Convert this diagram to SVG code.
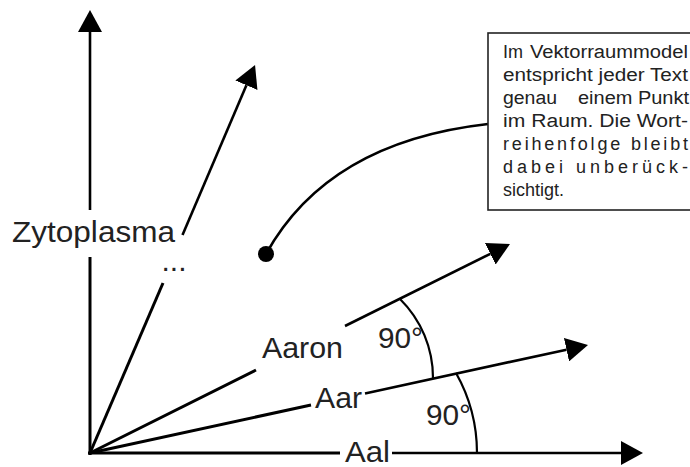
<svg xmlns="http://www.w3.org/2000/svg" width="690" height="467" viewBox="0 0 690 467">
<style>
.ln{stroke:#000;stroke-width:3;fill:none}
.vec{stroke:#000;stroke-width:2.6;fill:none;marker-end:url(#ah)}
.arc{stroke:#000;stroke-width:2.2;fill:none}
.lbl{font-family:"Liberation Sans",Arial,sans-serif;font-size:30px;fill:#222}
.box{font-family:"Liberation Sans",Arial,sans-serif;font-size:18px;fill:#222}
</style>
<defs>
<marker id="ah" markerUnits="userSpaceOnUse" viewBox="0 0 22 24" markerWidth="22" markerHeight="24" refX="0" refY="12" orient="auto">
<path d="M0,0 L22,12 L0,24 Z" fill="#000"/>
</marker>
</defs>
<rect width="690" height="467" fill="#fff"/>
<g id="connectors">
<line class="ln" x1="90" y1="455" x2="90" y2="257"/>
<line class="vec" x1="90" y1="210" x2="90" y2="32"/>
<line class="ln" x1="88" y1="453" x2="340" y2="453"/>
<line class="vec" x1="392" y1="453" x2="621" y2="453"/>
<line class="ln" x1="90" y1="453" x2="311" y2="405"/>
<line class="vec" x1="365" y1="393.4" x2="566.5" y2="349.7"/>
<line class="ln" x1="90" y1="453" x2="256" y2="370"/>
<line class="vec" x1="345" y1="326" x2="490.3" y2="253.8"/>
<line class="ln" x1="90" y1="453" x2="163" y2="283"/>
<line class="vec" x1="182.5" y1="235" x2="246.4" y2="85.2"/>
<path class="arc" d="M400,299 A111,111 0 0 1 433,378"/>
<path class="arc" d="M456,373 A163,163 0 0 1 477,453"/>
<path class="ln" style="stroke-width:2.6" d="M266,254 Q328,142 488,124"/>
</g>
<g id="point">
<circle cx="266" cy="254" r="8" fill="#000"/>
</g>
<g id="textbox">
<rect x="488" y="33" width="215" height="177" fill="#fff" stroke="#222" stroke-width="1.6"/>
<text class="box" x="503" y="58">Im</text>
<text class="box" x="530" y="58" textLength="158" lengthAdjust="spacingAndGlyphs">Vektorraummodel</text>
<text class="box" x="503" y="81" textLength="185" lengthAdjust="spacingAndGlyphs">entspricht jeder Text</text>
<text class="box" x="503" y="104" textLength="54" lengthAdjust="spacingAndGlyphs">genau</text>
<text class="box" x="578" y="104" textLength="111" lengthAdjust="spacingAndGlyphs">einem Punkt</text>
<text class="box" x="503" y="127" textLength="185" lengthAdjust="spacingAndGlyphs">im Raum. Die Wort-</text>
<text class="box" x="503" y="150" textLength="185" lengthAdjust="spacing">reihenfolge bleibt</text>
<text class="box" x="503" y="173" textLength="185" lengthAdjust="spacing">dabei unberück-</text>
<text class="box" x="503" y="196">sichtigt.</text>
</g>
<g id="label-zytoplasma"><text class="lbl" x="12" y="242" textLength="163" lengthAdjust="spacingAndGlyphs">Zytoplasma</text></g>
<g id="label-dots"><text class="lbl" x="174" y="271" text-anchor="middle">...</text></g>
<g id="label-aaron"><text class="lbl" x="262" y="358" textLength="81" lengthAdjust="spacingAndGlyphs">Aaron</text></g>
<g id="label-angle1"><text class="lbl" x="378" y="348" textLength="45" lengthAdjust="spacingAndGlyphs">90°</text></g>
<g id="label-aar"><text class="lbl" x="315" y="408" textLength="47" lengthAdjust="spacingAndGlyphs">Aar</text></g>
<g id="label-angle2"><text class="lbl" x="426" y="425" textLength="45" lengthAdjust="spacingAndGlyphs">90°</text></g>
<g id="label-aal"><text class="lbl" x="345" y="462" textLength="45" lengthAdjust="spacingAndGlyphs">Aal</text></g>
</svg>
